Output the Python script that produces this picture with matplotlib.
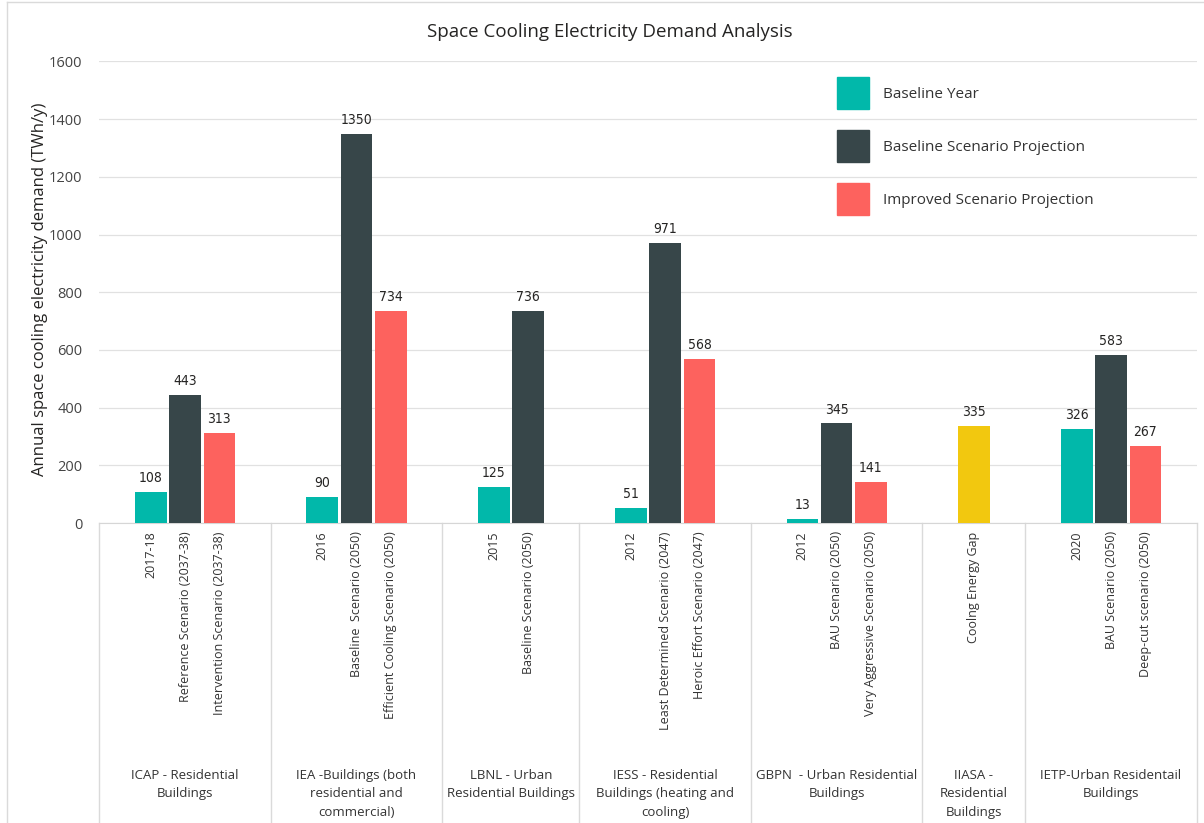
import matplotlib.pyplot as plt
from matplotlib.patches import Patch
from matplotlib.lines import Line2D
import matplotlib.transforms as mtransforms

plt.rcParams['font.family'] = ['Open Sans', 'DejaVu Sans']

# data
group_names = [
    "ICAP - Residential\nBuildings",
    "IEA -Buildings (both\nresidential and\ncommercial)",
    "LBNL - Urban\nResidential Buildings",
    "IESS - Residential\nBuildings (heating and\ncooling)",
    "GBPN  - Urban Residential\nBuildings",
    "IIASA -\nResidential\nBuildings",
    "IETP-Urban Residentail\nBuildings",
]
group_sizes = [3, 3, 2, 3, 3, 1, 3]

bar_labels = [
    "2017-18", "Reference Scenario (2037-38)", "Intervention Scenario (2037-38)",
    "2016", "Baseline  Scenario (2050)", "Efficient Cooling Scenario (2050)",
    "2015", "Baseline Scenario (2050)",
    "2012", "Least Determined Scenario (2047)", "Heroic Effort Scenario (2047)",
    "2012", "BAU Scenario (2050)", "Very Aggressive Scenario (2050)",
    "Coolng Energy Gap",
    "2020", "BAU Scenario (2050)", "Deep-cut scenario (2050)",
]
bar_values = [108, 443, 313, 90, 1350, 734, 125, 736, 51, 971, 568,
              13, 345, 141, 335, 326, 583, 267]
bar_series = ["base", "proj", "impr", "base", "proj", "impr", "base", "proj",
              "base", "proj", "impr", "base", "proj", "impr", "gap",
              "base", "proj", "impr"]

series_colors = {"base": "#01B8AA", "proj": "#374649",
                 "impr": "#FD625E", "gap": "#F2C80F"}
legend_names = {"base": "Baseline Year",
                "proj": "Baseline Scenario Projection",
                "impr": "Improved Scenario Projection"}

# positions: each group has one empty slot on both sides
positions = []
group_edges = [0]
group_centers = []
start = 0
for n in group_sizes:
    for i in range(n):
        positions.append(start + 1 + i + 0.5)
    group_centers.append(start + (n + 2) / 2)
    start += n + 2
    group_edges.append(start)

fig = plt.figure(figsize=(12.04, 8.23), dpi=100)
ax = fig.add_axes([0.0825, 0.3645, 0.9115, 0.5608])

colors = [series_colors[s] for s in bar_series]
bars = ax.bar(positions, bar_values, width=0.92, color=colors, zorder=3)

for x, v in zip(positions, bar_values):
    ax.annotate(str(v), (x, v), xytext=(0, 5), textcoords='offset points',
                ha='center', va='bottom', fontsize=10, color='#252423',
                family='DejaVu Sans', fontstretch='condensed')

ax.set_xlim(0, start)
ax.set_ylim(0, 1600)
ax.set_yticks(range(0, 1601, 200))
ax.grid(axis='y', color='#E1E1E1', linewidth=0.9, zorder=0)
ax.tick_params(axis='y', length=0, pad=12, labelsize=10.5, labelcolor='#444444')
ax.set_xticks(positions)
ax.set_xticklabels(bar_labels, rotation=90, fontsize=9, color='#333333')
ax.tick_params(axis='x', length=0, pad=6)
for side in ['top', 'right', 'left']:
    ax.spines[side].set_visible(False)
ax.spines['bottom'].set_color('#D6D6D6')

# group separators and labels under the axis
trans = mtransforms.blended_transform_factory(ax.transData, ax.transAxes)
for e in group_edges:
    ax.add_line(Line2D([e, e], [0, -0.66], transform=trans, color='#DADADA',
                       linewidth=1, clip_on=False))
for cx, name in zip(group_centers, group_names):
    ax.text(cx, -0.532, name, transform=trans, ha='center', va='top',
            fontsize=9.5, color='#333333', linespacing=1.55, multialignment='center')

handles = [Patch(color=series_colors[k], label=legend_names[k])
           for k in ["base", "proj", "impr"]]
fig.legend(handles=handles, loc='upper left', bbox_to_anchor=(0.695, 0.9064),
           frameon=False, fontsize=11, handlelength=2.1, handleheight=2.85,
           labelspacing=1.38, handletextpad=0.9, borderpad=0, borderaxespad=0,
           labelcolor='#333333')

fig.text(610 / 1204, 1 - 32 / 823, "Space Cooling Electricity Demand Analysis",
         ha='center', va='center', fontsize=13.5, color='#252423')
fig.text(40 / 1204, 1 - 289 / 823, "Annual space cooling electricity demand (TWh/y)",
         ha='center', va='center', rotation=90, fontsize=12, color='#252423')

# outer frame lines (top and left)
fig.add_artist(Line2D([7 / 1204, 1], [1 - 2 / 823, 1 - 2 / 823],
                      transform=fig.transFigure, color='#DADADA', linewidth=1))
fig.add_artist(Line2D([7 / 1204, 7 / 1204], [0, 1 - 2 / 823],
                      transform=fig.transFigure, color='#DADADA', linewidth=1))

fig.savefig("out.png", dpi=100)
